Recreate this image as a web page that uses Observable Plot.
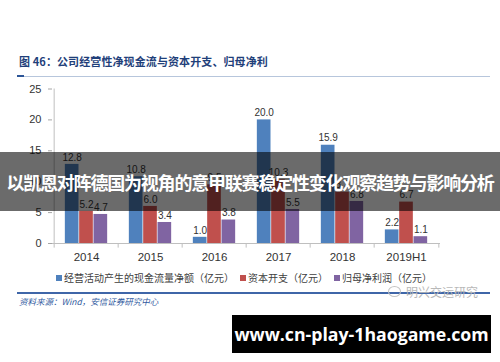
<!DOCTYPE html>
<html>
<head>
<meta charset="utf-8">
<script src="https://cdn.jsdelivr.net/npm/d3@7"></script>
<script src="https://cdn.jsdelivr.net/npm/@observablehq/plot@0.6"></script>
<style>
  html, body { margin: 0; padding: 0; background: #fff; }
  #wrap { position: relative; width: 500px; height: 362px; overflow: hidden; font-family: "Noto Sans CJK SC", "Liberation Sans", sans-serif; }
  #chart { position: absolute; left: 0; top: 0; }
  .abs { position: absolute; white-space: nowrap; }
  #title { left: 19px; top: 53px; font-size: 11px; font-weight: bold; color: #1f3f7a; letter-spacing: 0.1px; }
  #titleLine { left: 17px; top: 76px; width: 473px; height: 1px; background: #b7c6dc; }
  #titleMark { left: 17px; top: 75px; width: 7px; height: 2px; background: #2c5597; }
  #legend { left: 56px; top: 270px; font-size: 10px; color: #404040; }
  #legend span.sw { display: inline-block; width: 6px; height: 6px; margin-right: 2px; vertical-align: 1px; }
  #legend span.it { margin-right: 6px; }
  #botLine { left: 17px; top: 292px; width: 473px; height: 1.5px; background: #3f66a8; }
  #source { left: 19px; top: 295px; font-size: 8.5px; font-style: italic; color: #2f5aa0; }
  #wm { left: 388px; top: 283px; font-size: 12px; color: #b8b8b8; }
  #wm .ic { display: inline-block; width: 11px; height: 9px; border: 1px solid #c4c4c4; border-radius: 50%; margin-right: 5px; vertical-align: 0px; }
  #banner { left: 0; top: 152px; width: 500px; height: 59px; background: rgba(0,0,0,0.58); color: #fff; font-size: 18px; font-weight: bold; line-height: 61px; text-align: center; letter-spacing: -1.2px; }
  #site { left: 232px; top: 315px; width: 259px; height: 38px; background: #000; color: #fff; font-family: "Open Sans", "DejaVu Sans", sans-serif; font-weight: bold; font-size: 17.7px; line-height: 38px; text-align: center; }
</style>
</head>
<body>
<div id="wrap">
  <div id="chart"></div>
  <div class="abs" id="title"></div>
  <div class="abs" id="titleLine"></div>
  <div class="abs" id="titleMark"></div>
  <div class="abs" id="legend"></div>
  <div class="abs" id="botLine"></div>
  <div class="abs" id="source"></div>
  <div class="abs" id="wm"><span class="ic"></span><span id="wmText"></span></div>
  <div class="abs" id="banner"></div>
  <div class="abs" id="site"></div>
</div>
<script>
const categories = ["2014", "2015", "2016", "2017", "2018", "2019H1"];
const cashFlow = [12.8, 10.8, 1.0, 20.0, 15.9, 2.2];
const capex = [5.2, 6.0, 9.5, 10.3, 8.3, 6.7];
const netProfit = [4.7, 3.4, 3.8, 5.5, 6.8, 1.1];
const seriesNames = ["经营活动产生的现金流量净额（亿元）", "资本开支（亿元）", "归母净利润（亿元）"];
const seriesColors = ["#4F81BD", "#C0504D", "#8064A2"];
const yTicks = [0, 5, 10, 15, 20, 25];
const titleText = "图 46：公司经营性净现金流与资本开支、归母净利";
const sourceText = "资料来源：Wind，安信证券研究中心";
const watermarkText = "明兴交运研究";
const bannerText = "以凯恩对阵德国为视角的意甲联赛稳定性变化观察趋势与影响分析";
const siteText = "www.cn-play-1haogame.com";

const seriesValues = [cashFlow, capex, netProfit];
const rows = [];
seriesValues.forEach((vals, s) => vals.forEach((v, i) => rows.push({cat: categories[i], s, v})));

const W = 500, H = 362, mL = 52, mR = 60, mT = 88.5, mB = 119;
const bw = (W - mL - mR) / categories.length;
const barW = 14.33;
const firstInset = (bw - 3 * barW) / 2;

const marks = [];
marks.push(Plot.ruleY([0], {stroke: "#bfbfbf"}));
marks.push(Plot.ruleX([categories[0]], {x: d => d, y1: 0, y2: 25, dx: -bw / 2, stroke: "#bfbfbf"}));
marks.push(Plot.ruleX(categories, {x: d => d, y1: 0, y2: -0.75, dx: -bw / 2, stroke: "#bfbfbf"}));
marks.push(Plot.ruleX([categories[categories.length - 1]], {x: d => d, y1: 0, y2: -0.75, dx: bw / 2, stroke: "#bfbfbf"}));
for (let s = 0; s < 3; s++) {
  const data = rows.filter(r => r.s === s);
  const inL = firstInset + s * barW;
  marks.push(Plot.barY(data, {x: "cat", y: "v", fill: seriesColors[s], insetLeft: inL, insetRight: bw - inL - barW}));
  marks.push(Plot.text(data, {x: "cat", y: "v", text: d => d.v.toFixed(1), dx: (s - 1) * barW, dy: -7, fontSize: 10, fill: "#333"}));
}
marks.push(Plot.axisY({ticks: yTicks, tickSize: 4, tickPadding: 7, fontSize: 11, stroke: "#a6a6a6", fill: "#333", label: null}));
marks.push(Plot.axisX({tickSize: 0, tickPadding: 9, fontSize: 11.5, fill: "#333", label: null}));

const plot = Plot.plot({
  width: W, height: H,
  marginLeft: mL, marginRight: mR, marginTop: mT, marginBottom: mB,
  style: {fontFamily: "'Liberation Sans', 'Noto Sans CJK SC', sans-serif", background: "transparent"},
  x: {type: "band", domain: categories, padding: 0, axis: null},
  y: {domain: [0, 25], axis: null},
  marks
});
document.getElementById("chart").appendChild(plot);

document.getElementById("title").textContent = titleText;
document.getElementById("source").textContent = sourceText;
document.getElementById("wmText").textContent = watermarkText;
document.getElementById("banner").textContent = bannerText;
document.getElementById("site").textContent = siteText;
const legend = document.getElementById("legend");
seriesNames.forEach((n, i) => {
  const sw = document.createElement("span");
  sw.className = "sw"; sw.style.background = seriesColors[i];
  const t = document.createElement("span");
  t.className = "it"; t.textContent = n;
  legend.appendChild(sw); legend.appendChild(t);
});
</script>
</body>
</html>
